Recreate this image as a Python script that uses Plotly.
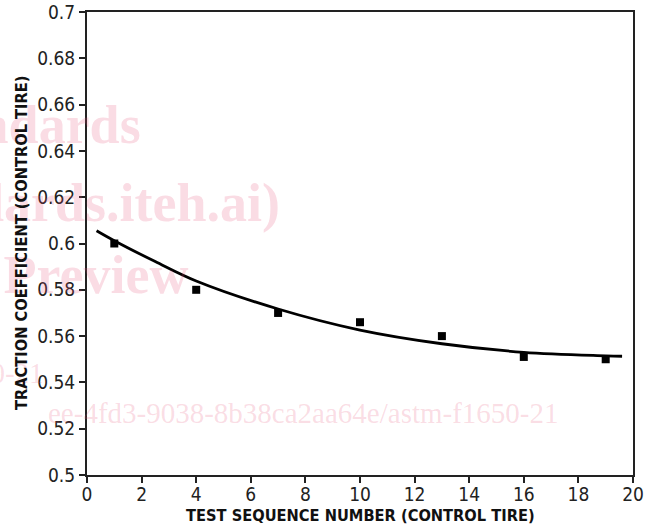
import plotly.graph_objects as go

# Measured data (control tire)
seq_number = [1, 4, 7, 10, 13, 16, 19]
traction = [0.600, 0.580, 0.570, 0.566, 0.560, 0.551, 0.550]

# Trend curve
curve_x = [0.35, 1, 2.5, 4, 7, 10, 13, 16, 19, 19.6]
curve_y = [0.6055, 0.6012, 0.5922, 0.5838, 0.5717, 0.5626, 0.5567, 0.5530, 0.5515, 0.5513]

x_ticks = [0, 2, 4, 6, 8, 10, 12, 14, 16, 18, 20]
y_ticks = [0.5, 0.52, 0.54, 0.56, 0.58, 0.6, 0.62, 0.64, 0.66, 0.68, 0.7]

x_title = "TEST SEQUENCE NUMBER (CONTROL TIRE)"
y_title = "TRACTION COEFFICIENT (CONTROL TIRE)"

# Watermark lines (text, right edge px, baseline px, size, bold)
wm_text = ["iTeh Standards", "(https://standards.iteh.ai)", "Document Preview",
           "ASTM F1650-21", "ee-4fd3-9038-8b38ca2aa64e/astm-f1650-21"]
wm_right = [142, 281, 189, 45, 560]
wm_base = [144, 222, 294, 384, 424]
wm_size = [54, 54, 54, 29, 29]
wm_bold = [True, True, True, False, False]

W, H = 659, 526
L, R, T, B = 87, 26, 12, 51
pw, ph = W - L - R, H - T - B

def px_x(px):
    return (px - L) / pw

def px_y(py):
    return (H - B - py) / ph

tick_font = dict(family="DejaVu Sans Condensed, DejaVu Sans", size=19, color="#222")
title_font = dict(family="DejaVu Sans Condensed, DejaVu Sans", size=16.3, color="#111", weight="bold")

fig = go.Figure()
fig.add_trace(go.Scatter(x=curve_x, y=curve_y, mode="lines", line=dict(color="black", width=2.8, shape="spline"),
                         hoverinfo="skip", showlegend=False))
fig.add_trace(go.Scatter(x=seq_number, y=traction, mode="markers",
                         marker=dict(symbol="square", size=8, color="black"), showlegend=False))

annotations = []
for t, rx, by, s, bd in zip(wm_text, wm_right, wm_base, wm_size, wm_bold):
    annotations.append(dict(
        text=t, xref="paper", yref="paper",
        x=px_x(rx), y=px_y(by + 0.22 * s),
        xanchor="right", yanchor="bottom", showarrow=False,
        font=dict(family="Liberation Serif", size=s, color="rgba(230,80,120,0.2)",
                  weight="bold" if bd else "normal"),
        borderpad=0))

annotations.append(dict(text=x_title, xref="paper", yref="paper", x=px_x(360), y=px_y(515),
                        xanchor="center", yanchor="middle", showarrow=False, font=title_font))
annotations.append(dict(text=y_title, xref="paper", yref="paper", x=px_x(21), y=px_y(243),
                        xanchor="center", yanchor="middle", showarrow=False, textangle=-90, font=title_font))

fig.update_layout(
    width=W, height=H, margin=dict(l=L, r=R, t=T, b=B),
    paper_bgcolor="white", plot_bgcolor="white",
    annotations=annotations,
    xaxis=dict(range=[0, 20], tickvals=x_ticks, ticks="outside", ticklen=6, tickwidth=2, tickcolor="#222",
               showline=True, linewidth=2, linecolor="#222", mirror=True, showgrid=False, zeroline=False,
               tickfont=tick_font, ticklabelstandoff=-5, automargin=False),
    yaxis=dict(range=[0.5, 0.7], tickvals=y_ticks, ticks="outside", ticklen=6, tickwidth=2, tickcolor="#222",
               showline=True, linewidth=2, linecolor="#222", mirror=True, showgrid=False, zeroline=False,
               tickfont=tick_font, ticklabelstandoff=0, automargin=False),
)

fig.write_html("out.html")
